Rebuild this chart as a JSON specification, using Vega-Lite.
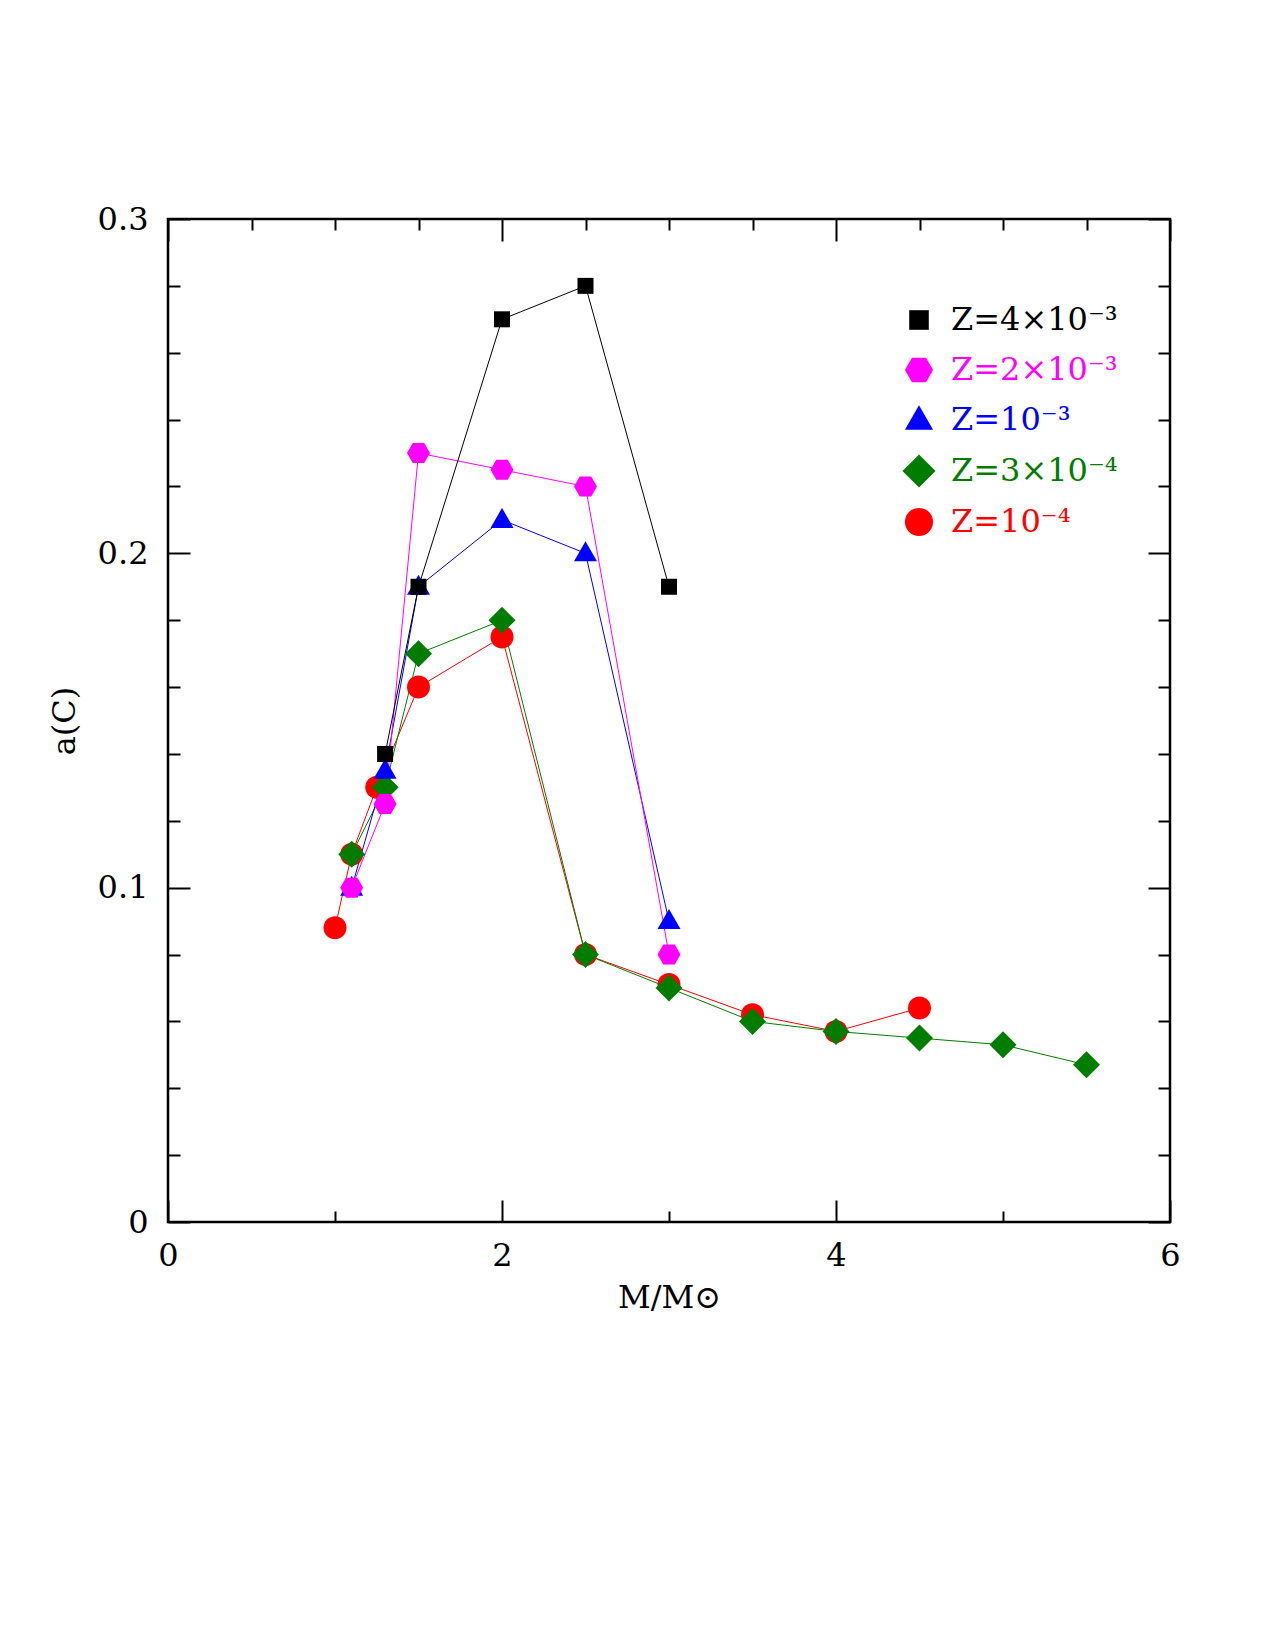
{
  "$schema": "https://vega.github.io/schema/vega-lite/v6.json",
  "width": 1002,
  "height": 1003,
  "autosize": "none",
  "padding": {"left": 168, "top": 219, "right": 105, "bottom": 428},
  "background": "white",
  "config": {
    "view": {"stroke": "black", "strokeWidth": 2.5},
    "font": "DejaVu Serif"
  },
  "data": {
    "values": [
      {"series": "Z=10⁻⁴", "mass": 1.0, "aC": 0.088},
      {"series": "Z=10⁻⁴", "mass": 1.1, "aC": 0.11},
      {"series": "Z=10⁻⁴", "mass": 1.25, "aC": 0.13},
      {"series": "Z=10⁻⁴", "mass": 1.5, "aC": 0.16},
      {"series": "Z=10⁻⁴", "mass": 2.0, "aC": 0.175},
      {"series": "Z=10⁻⁴", "mass": 2.5, "aC": 0.08},
      {"series": "Z=10⁻⁴", "mass": 3.0, "aC": 0.071},
      {"series": "Z=10⁻⁴", "mass": 3.5, "aC": 0.062},
      {"series": "Z=10⁻⁴", "mass": 4.0, "aC": 0.057},
      {"series": "Z=10⁻⁴", "mass": 4.5, "aC": 0.064},
      {"series": "Z=3×10⁻⁴", "mass": 1.1, "aC": 0.11},
      {"series": "Z=3×10⁻⁴", "mass": 1.3, "aC": 0.13},
      {"series": "Z=3×10⁻⁴", "mass": 1.5, "aC": 0.17},
      {"series": "Z=3×10⁻⁴", "mass": 2.0, "aC": 0.18},
      {"series": "Z=3×10⁻⁴", "mass": 2.5, "aC": 0.08},
      {"series": "Z=3×10⁻⁴", "mass": 3.0, "aC": 0.07},
      {"series": "Z=3×10⁻⁴", "mass": 3.5, "aC": 0.06},
      {"series": "Z=3×10⁻⁴", "mass": 4.0, "aC": 0.057},
      {"series": "Z=3×10⁻⁴", "mass": 4.5, "aC": 0.055},
      {"series": "Z=3×10⁻⁴", "mass": 5.0, "aC": 0.053},
      {"series": "Z=3×10⁻⁴", "mass": 5.5, "aC": 0.047},
      {"series": "Z=10⁻³", "mass": 1.1, "aC": 0.1},
      {"series": "Z=10⁻³", "mass": 1.3, "aC": 0.135},
      {"series": "Z=10⁻³", "mass": 1.5, "aC": 0.19},
      {"series": "Z=10⁻³", "mass": 2.0, "aC": 0.21},
      {"series": "Z=10⁻³", "mass": 2.5, "aC": 0.2},
      {"series": "Z=10⁻³", "mass": 3.0, "aC": 0.09},
      {"series": "Z=2×10⁻³", "mass": 1.1, "aC": 0.1},
      {"series": "Z=2×10⁻³", "mass": 1.3, "aC": 0.125},
      {"series": "Z=2×10⁻³", "mass": 1.5, "aC": 0.23},
      {"series": "Z=2×10⁻³", "mass": 2.0, "aC": 0.225},
      {"series": "Z=2×10⁻³", "mass": 2.5, "aC": 0.22},
      {"series": "Z=2×10⁻³", "mass": 3.0, "aC": 0.08},
      {"series": "Z=4×10⁻³", "mass": 1.3, "aC": 0.14},
      {"series": "Z=4×10⁻³", "mass": 1.5, "aC": 0.19},
      {"series": "Z=4×10⁻³", "mass": 2.0, "aC": 0.27},
      {"series": "Z=4×10⁻³", "mass": 2.5, "aC": 0.28},
      {"series": "Z=4×10⁻³", "mass": 3.0, "aC": 0.19}
    ]
  },
  "resolve": {"axis": {"x": "independent", "y": "independent"}},
  "layer": [
    {
      "mark": {"type": "line", "strokeWidth": 1},
      "encoding": {
        "x": {
          "field": "mass", "type": "quantitative",
          "scale": {"domain": [0, 6], "nice": false, "zero": false},
          "axis": {
            "orient": "top", "title": null, "labels": false, "domain": false, "grid": false,
            "values": [0, 0.5, 1, 1.5, 2, 2.5, 3, 3.5, 4, 4.5, 5, 5.5, 6],
            "tickColor": "black", "tickWidth": 2,
            "tickSize": {"condition": {"test": "datum.value % 2 === 0", "value": -22}, "value": -11}
          }
        },
        "y": {
          "field": "aC", "type": "quantitative",
          "scale": {"domain": [0, 0.3], "nice": false, "zero": false},
          "axis": {
            "orient": "right", "title": null, "labels": false, "domain": false, "grid": false,
            "values": [0, 0.02, 0.04, 0.06, 0.08, 0.1, 0.12, 0.14, 0.16, 0.18, 0.2, 0.22, 0.24, 0.26, 0.28, 0.3],
            "tickColor": "black", "tickWidth": 2,
            "tickSize": {"condition": {"test": "abs(datum.value * 10 - round(datum.value * 10)) < 1e-6", "value": -22}, "value": -12}
          }
        },
        "stroke": {
          "field": "series", "type": "nominal", "legend": null,
          "scale": {
            "domain": ["Z=10⁻⁴", "Z=3×10⁻⁴", "Z=10⁻³", "Z=2×10⁻³", "Z=4×10⁻³"],
            "range": ["#ff0000", "#007d00", "#0000ff", "#ff00ff", "#000000"]
          }
        },
        "detail": {"field": "series", "type": "nominal"}
      }
    },
    {
      "mark": {"type": "point", "filled": true, "opacity": 1, "size": 100, "strokeWidth": 0},
      "encoding": {
        "x": {
          "field": "mass", "type": "quantitative",
          "scale": {"domain": [0, 6], "nice": false, "zero": false},
          "axis": {
            "orient": "bottom", "title": "M/M⊙", "domain": false, "grid": false,
            "values": [0, 0.5, 1, 1.5, 2, 2.5, 3, 3.5, 4, 4.5, 5, 5.5, 6],
            "format": "d",
            "labelExpr": "datum.value % 2 === 0 ? datum.label : ''",
            "tickColor": "black", "tickWidth": 2,
            "tickSize": {"condition": {"test": "datum.value % 2 === 0", "value": -22}, "value": -11},
            "labelFont": "DejaVu Serif", "labelFontSize": 32, "labelColor": "black", "labelPadding": 40,
            "labelFlush": false, "labelOverlap": false,
            "titleFont": "DejaVu Serif", "titleFontSize": 32, "titleFontWeight": "normal", "titleColor": "black", "titlePadding": 0
          }
        },
        "y": {
          "field": "aC", "type": "quantitative",
          "scale": {"domain": [0, 0.3], "nice": false, "zero": false},
          "axis": {
            "orient": "left", "title": "a(C)", "domain": false, "grid": false,
            "values": [0, 0.02, 0.04, 0.06, 0.08, 0.1, 0.12, 0.14, 0.16, 0.18, 0.2, 0.22, 0.24, 0.26, 0.28, 0.3],
            "labelExpr": "abs(datum.value * 10 - round(datum.value * 10)) < 1e-6 ? (datum.value === 0 ? '0' : format(datum.value, '.1f')) : ''",
            "tickColor": "black", "tickWidth": 2,
            "tickSize": {"condition": {"test": "abs(datum.value * 10 - round(datum.value * 10)) < 1e-6", "value": -22}, "value": -12},
            "labelFont": "DejaVu Serif", "labelFontSize": 32, "labelColor": "black", "labelPadding": 42,
            "labelFlush": false, "labelOverlap": false,
            "titleFont": "DejaVu Serif", "titleFontSize": 32, "titleFontWeight": "normal", "titleColor": "black", "titlePadding": 16
          }
        },
        "color": {
          "field": "series", "type": "nominal",
          "scale": {
            "domain": ["Z=4×10⁻³", "Z=2×10⁻³", "Z=10⁻³", "Z=3×10⁻⁴", "Z=10⁻⁴"],
            "range": ["#000000", "#ff00ff", "#0000ff", "#007d00", "#ff0000"]
          },
          "legend": {
            "orient": "none", "legendX": 735, "legendY": 85, "title": null, "padding": 0,
            "labelFont": "DejaVu Serif", "labelFontSize": 32, "labelOffset": 16, "labelLimit": 0, "rowPadding": 18,
            "symbolSize": 150,
            "labelColor": {"expr": "scale('color', datum.value)"}
          }
        },
        "shape": {
          "field": "series", "type": "nominal",
          "scale": {
            "domain": ["Z=4×10⁻³", "Z=2×10⁻³", "Z=10⁻³", "Z=3×10⁻⁴", "Z=10⁻⁴"],
            "range": [
              "M-1.6,-1.6L1.6,-1.6L1.6,1.6L-1.6,1.6Z",
              "M-2.3,0L-1.15,-2L1.15,-2L2.3,0L1.15,2L-1.15,2Z",
              "M0,-2.4L2.3,1.6L-2.3,1.6Z",
              "M-2.7,0L0,-2.7L2.7,0L0,2.7Z",
              "M-2.3,0A2.3,2.3,0,1,1,2.3,0A2.3,2.3,0,1,1,-2.3,0Z"
            ]
          }
        }
      }
    }
  ]
}
